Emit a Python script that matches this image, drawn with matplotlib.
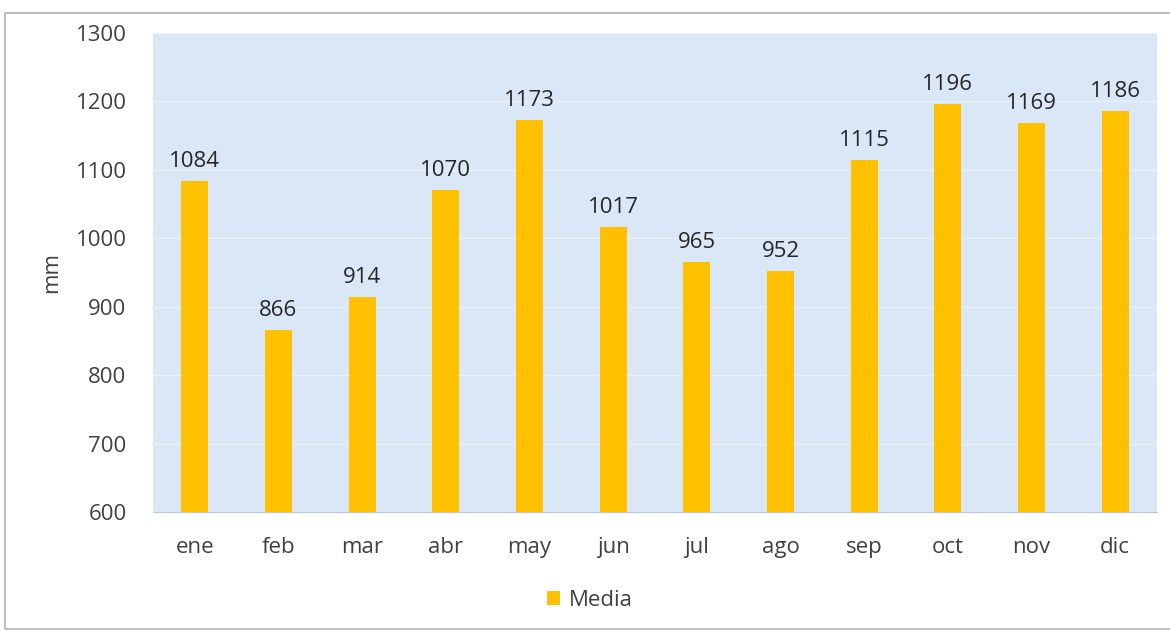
import matplotlib.pyplot as plt
import matplotlib.patches as mpatches
import numpy as np

# data
months = ['ene', 'feb', 'mar', 'abr', 'may', 'jun', 'jul', 'ago', 'sep', 'oct', 'nov', 'dic']
media = [1084, 866, 914, 1070, 1173, 1017, 965, 952, 1115, 1196, 1169, 1186]
yticks = [600, 700, 800, 900, 1000, 1100, 1200, 1300]

plt.rcParams['font.family'] = ['Open Sans', 'DejaVu Sans']
bar_color = '#FFC000'
text_color = '#404040'
fs = 16

fig = plt.figure(figsize=(11.7, 6.31), dpi=100)
ax = fig.add_axes([153/1170, 1 - 512/631, 1004/1170, 479/631])

# outer chart frame
frame = mpatches.Rectangle((5/1170, 0.003), 1.2, 1 - 13/631 - 0.003,
                           transform=fig.transFigure, fill=False,
                           edgecolor='#bfbfbf', linewidth=1.5, clip_on=False)
fig.patches.append(frame)

ax.set_facecolor('#d9e7f6')
x = np.arange(len(months))
bars = ax.bar(x, media, width=0.32, color=bar_color, label='Media', zorder=3)

for xi, v in zip(x, media):
    ax.text(xi, v + 13, str(v), ha='center', va='bottom', fontsize=fs, color='#262626')

ax.set_ylim(600, 1300)
ax.set_xlim(-0.5, len(months) - 0.5)
ax.set_yticks(yticks)
ax.set_xticks(x)
ax.set_xticklabels(months)
ax.tick_params(axis='both', length=0, labelsize=fs, colors=text_color)
ax.tick_params(axis='y', pad=19)
ax.tick_params(axis='x', pad=18)
ax.grid(axis='y', color='#eaf1f9', linewidth=1, zorder=0)
for s in ['top', 'right', 'left']:
    ax.spines[s].set_visible(False)
ax.spines['bottom'].set_color('#b4c7dc')

ax.set_ylabel('mm', fontsize=fs, color=text_color, labelpad=10)

fig.legend(handles=[bars], labels=['Media'], loc='center', bbox_to_anchor=(590/1170, 1 - 600/631),
           frameon=False, fontsize=fs, handlelength=0.6, handleheight=0.6, handletextpad=0.4,
           labelcolor=text_color)

fig.savefig('out.png', dpi=100)
